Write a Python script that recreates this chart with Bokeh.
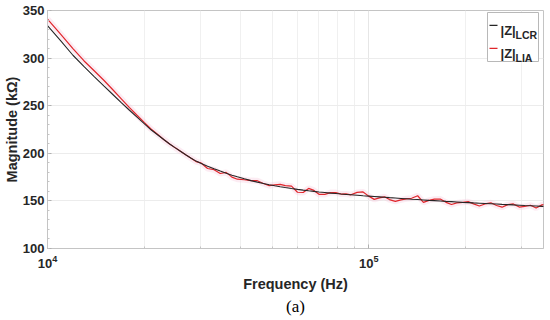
from bokeh.plotting import figure
from bokeh.models import Range1d, Title, Label, BoxAnnotation, FixedTicker, LogTickFormatter
from bokeh.embed import file_html
from bokeh.resources import INLINE

# frequency (Hz)
freq = [10000, 11000, 12000, 13000, 14000, 15000, 16000, 17000, 18000, 19000,
        20000, 21000, 22000, 23000, 24000, 25000, 26000, 27000, 28000, 29000,
        30000, 31500, 33000, 34500, 36000, 37500, 39000, 41000, 43000, 45000,
        47000, 49000, 51000, 53000, 55000, 57500, 60000, 62500, 65000, 67500,
        70000, 73000, 76000, 79000, 82000, 85000, 88000, 92000, 96000, 100000,
        104000, 108000, 112000, 116000, 121000, 126000, 131000, 136000, 142000, 148000,
        154000, 160000, 167000, 174000, 181000, 188000, 196000, 204000, 212000, 221000,
        230000, 240000, 250000, 260000, 271000, 282000, 294000, 306000, 319000, 332000,
        346000, 351000]

# |Z| from LCR meter (kOhm)
z_lcr = [334, 318, 303, 291, 280.3, 270.5, 261.5, 253, 245.2, 238,
         231.2, 224.7, 219.5, 214.5, 209.8, 205.7, 201.9, 198.2, 194.8, 191.8,
         189.5, 186.5, 183.8, 181.3, 179, 177, 175.3, 173.2, 171.3, 169.7,
         168.3, 167, 165.9, 164.9, 164, 163, 162.1, 161.3, 160.6, 160,
         159.4, 158.8, 158.2, 157.7, 157.2, 156.8, 156.4, 155.9, 155.4, 155,
         154.6, 154.2, 153.8, 153.4, 153, 152.6, 152.2, 151.8, 151.4, 151,
         150.6, 150.3, 149.9, 149.5, 149.2, 148.9, 148.5, 148.2, 147.9, 147.6,
         147.3, 147, 146.7, 146.4, 146.1, 145.8, 145.5, 145.2, 144.9, 144.6,
         144.3, 144.2]

# |Z| from lock-in amplifier (kOhm)
z_lia = [341, 325, 310, 297, 286.5, 276.5, 266.5, 257, 248, 240,
         232.5, 225.5, 220, 214.5, 209.8, 205.7, 201.9, 198.2, 194.8, 191.3,
         190, 184, 182.8, 178.8, 180, 175, 172.8, 172.2, 171.3, 171.2,
         168.3, 166, 166.9, 167.4, 166, 165.5, 159.1, 158.8, 163.1, 161,
         156.9, 156.8, 158.7, 158.7, 157.2, 157.3, 156.4, 158.9, 159.4, 155,
         151.6, 153.2, 154.3, 151.4, 149.5, 151.1, 152.2, 152.8, 155.4, 148.5,
         150.6, 151.8, 151.9, 148.5, 146.2, 147.9, 148.5, 149.2, 146.9, 144.6,
         146.8, 148, 145.2, 143.4, 146.1, 146.8, 143.5, 144.2, 145.4, 142.6,
         145.8, 146.2]

x_major_ticks = [1e4, 1e5]
x_minor_ticks = [2e4, 3e4, 4e4, 5e4, 6e4, 7e4, 8e4, 9e4, 2e5, 3e5]
y_major_ticks = [100, 150, 200, 250, 300, 350]
y_minor_ticks = list(range(100, 351, 10))

FONT = "Liberation Sans"
INK = "#262626"
RED = "#e0262b"

p = figure(width=544, height=316, x_axis_type="log",
           x_range=Range1d(1e4, 3.5e5), y_range=Range1d(100, 350),
           output_backend="svg", toolbar_location=None,
           min_border_left=0, min_border_right=1, min_border_top=10, min_border_bottom=0)

p.background_fill_color = "white"
p.border_fill_color = "white"
p.outline_line_color = "#c4c4c4"
p.outline_line_width = 1

for ax in (p.xaxis[0], p.yaxis[0]):
    ax.axis_line_color = "#c4c4c4"
    ax.major_tick_line_color = "#b0b0b0"
    ax.minor_tick_line_color = "#c4c4c4"
    ax.major_tick_in = 4
    ax.major_tick_out = 0
    ax.minor_tick_in = 2
    ax.minor_tick_out = 0
    ax.major_label_text_font = FONT
    ax.major_label_text_font_style = "bold"
    ax.major_label_text_font_size = "13px"
    ax.major_label_text_color = INK
    ax.axis_label_text_font = FONT
    ax.axis_label_text_font_style = "bold"
    ax.axis_label_text_font_size = "14.5px"
    ax.axis_label_text_color = INK

p.xaxis[0].ticker = FixedTicker(ticks=x_major_ticks, minor_ticks=x_minor_ticks)
p.xaxis[0].formatter = LogTickFormatter()
p.yaxis[0].ticker = FixedTicker(ticks=y_major_ticks, minor_ticks=y_minor_ticks)
p.xaxis.axis_label = "Frequency (Hz)"
p.yaxis.axis_label = "Magnitude (k\u03a9)"
p.yaxis.axis_label_standoff = 0
p.yaxis.major_label_standoff = 3
p.xaxis.axis_label_standoff = 5
p.xaxis.major_label_standoff = 6

p.xgrid.grid_line_color = "#e6e6e6"
p.xgrid.minor_grid_line_color = "#f0f0f0"
p.ygrid.grid_line_color = "#ececec"

p.line(freq, z_lia, line_color="#f5c8dc", line_width=6, line_alpha=0.35)
p.line(freq, z_lia, line_color=RED, line_width=1.2)
p.line(freq, z_lcr, line_color=INK, line_width=1.1)

cap = Title(text="(a)", align="center", text_font="Liberation Serif",
            text_font_size="17px", text_font_style="normal", text_color="black",
            standoff=1)
p.add_layout(cap, "below")

# manual legend (screen units, relative to the frame)
def sbox(l, r, b, t, **kw):
    return BoxAnnotation(left=l, right=r, bottom=b, top=t,
                         left_units="screen", right_units="screen",
                         bottom_units="screen", top_units="screen", **kw)

p.add_layout(sbox(440, 491, 187, 236, fill_color="white", fill_alpha=1,
                  line_color="#b8b8b8", line_width=1, line_alpha=1))
p.add_layout(sbox(442, 450, 222.5, 223.8, fill_color=INK, fill_alpha=1, line_alpha=0))
p.add_layout(sbox(442, 450, 199.5, 200.8, fill_color=RED, fill_alpha=1, line_alpha=0))
for (txt, sub, yb) in (("|Z|", "LCR", 218), ("|Z|", "LIA", 195)):
    p.add_layout(Label(x=453, y=yb, x_units="screen", y_units="screen", text=txt,
                       text_font=FONT, text_font_style="bold", text_font_size="13px",
                       text_color=INK, text_baseline="alphabetic"))
    p.add_layout(Label(x=468, y=yb - 4.5, x_units="screen", y_units="screen", text=sub,
                       text_font=FONT, text_font_style="bold", text_font_size="10.5px",
                       text_color=INK, text_baseline="alphabetic"))

open("out.html", "w").write(file_html(p, INLINE))
